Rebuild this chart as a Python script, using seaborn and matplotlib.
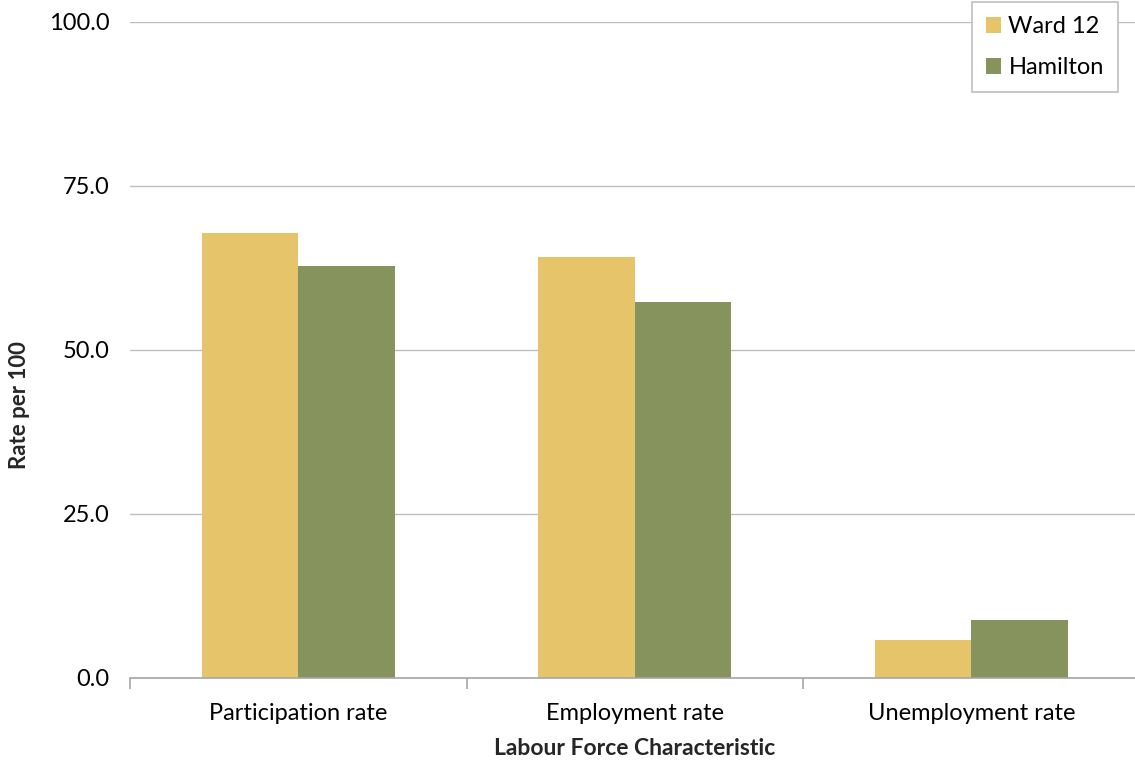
import matplotlib
matplotlib.use("Agg")
import matplotlib.pyplot as plt
import pandas as pd
import seaborn as sns
from matplotlib.ticker import FixedLocator

categories = ["Participation rate", "Employment rate", "Unemployment rate"]
ward12 = [67.8, 64.2, 5.8]
hamilton = [62.8, 57.3, 8.8]
series = ["Ward 12", "Hamilton"]
colors = ["#E6C46A", "#87935C"]

df = pd.DataFrame({
    "cat": categories * 2,
    "val": ward12 + hamilton,
    "area": [series[0]] * 3 + [series[1]] * 3,
})

sns.set_style("white")
plt.rcParams["font.family"] = ["Lato", "DejaVu Sans"]
plt.rcParams["text.color"] = "black"
plt.rcParams["xtick.color"] = "#A6A6A6"
plt.rcParams["xtick.labelcolor"] = "black"
plt.rcParams["ytick.labelcolor"] = "black"

fig = plt.figure(figsize=(11.35, 7.61), dpi=100)
# axes spans x 130..1139.5 px, y 22..678 px
ax = fig.add_axes([130 / 1135, 83 / 761, 1009.5 / 1135, 656 / 761])

sns.barplot(data=df, x="cat", y="val", hue="area", palette=colors,
            width=0.573, saturation=1, ax=ax, edgecolor="none", linewidth=0)

ax.set_xlim(-0.5, 2.5)
ax.set_ylim(0, 100)
ax.set_yticks([0, 25, 50, 75, 100])
ax.set_yticklabels(["0.0", "25.0", "50.0", "75.0", "100.0"], fontsize=17)
ax.yaxis.grid(True, color="#BFBFBF", linewidth=1)
ax.set_axisbelow(True)
ax.tick_params(axis="y", length=0, pad=15)
ax.tick_params(axis="x", which="major", bottom=False, length=0, labelsize=17, pad=18)
ax.xaxis.set_minor_locator(FixedLocator([-0.5, 0.5, 1.5]))
ax.tick_params(axis="x", which="minor", bottom=True, length=8, color="#A6A6A6", width=1.2)

for s in ["top", "right", "left"]:
    ax.spines[s].set_visible(False)
ax.spines["bottom"].set_color("#A6A6A6")
ax.spines["bottom"].set_linewidth(1.2)

ax.set_xlabel("Labour Force Characteristic", fontsize=16.5, fontweight="bold", labelpad=10)
ax.set_ylabel("Rate per 100", fontsize=16, fontweight="bold")
ax.yaxis.set_label_coords((30 - 130) / 1009.5, (678 - 405) / 656)

leg = ax.legend(loc="upper right", bbox_to_anchor=((1118 - 130) / 1009.5, (678 - 2) / 656),
                borderaxespad=0, fontsize=17,
                frameon=True, fancybox=False, edgecolor="#BFBFBF",
                handlelength=0.65, handleheight=0.65, handletextpad=0.3,
                labelspacing=0.85, borderpad=0.6, framealpha=1)
leg.get_frame().set_linewidth(1.2)

fig.savefig("out.png", dpi=100)
